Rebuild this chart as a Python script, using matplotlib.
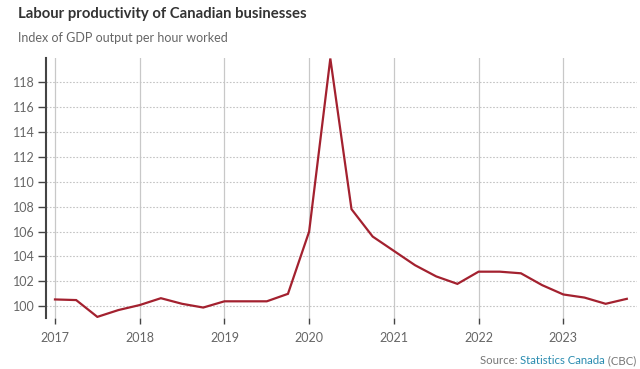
import matplotlib
matplotlib.use("Agg")
import matplotlib.pyplot as plt
import numpy as np

plt.rcParams['font.family'] = ['Lato', 'DejaVu Sans']

quarters = [2017 + q / 4 for q in range(28)]
productivity = [100.55, 100.5, 99.15, 99.7, 100.1, 100.65, 100.2, 99.9,
                100.4, 100.4, 100.4, 101.0, 106.0, 119.9, 107.8, 105.6,
                104.45, 103.3, 102.4, 101.8, 102.78, 102.78, 102.65, 101.7,
                100.95, 100.7, 100.2, 100.6]
year_ticks = [2017, 2018, 2019, 2020, 2021, 2022, 2023]
y_ticks = [100, 102, 104, 106, 108, 110, 112, 114, 116, 118]

fig = plt.figure(figsize=(6.4, 3.69), dpi=100)
ax = fig.add_axes([46/640, 1 - 318/369, (637-46)/640, (318-58)/369])

ax.plot(quarters, productivity, color='#a3212f', lw=1.6, zorder=3, solid_joinstyle='miter')

ax.set_xlim(2016.894, 2023.87)
ax.set_ylim(99.06, 119.94)
ax.set_xticks(year_ticks)
ax.set_xticklabels([str(y) for y in year_ticks])
ax.set_yticks(y_ticks)
ax.set_yticklabels([str(y) for y in y_ticks])

for s in ['top', 'right', 'bottom']:
    ax.spines[s].set_visible(False)
ax.spines['left'].set_color('#444444')
ax.spines['left'].set_linewidth(1.5)

ax.grid(axis='y', color='#c4c4c4', linestyle=(0, (1.5, 1.5)), lw=0.8)
ax.grid(axis='x', color='#c8c8c8', linestyle='-', lw=0.9)
ax.set_axisbelow(True)

ax.tick_params(axis='y', length=6, width=1, color='#444444', labelsize=9, labelcolor='#666666', pad=2)
ax.tick_params(axis='x', length=4, width=1, color='#444444', labelsize=9, labelcolor='#666666', pad=6)

fig.text(18/640, 1 - 14/369, 'Labour productivity of Canadian businesses', fontsize=10.7,
         fontweight='bold', color='#333333', va='center', ha='left')
fig.text(18/640, 1 - 38/369, 'Index of GDP output per hour worked', fontsize=9,
         color='#666666', va='center', ha='left')

# Source line, right-aligned
yline = 1 - 361/369
t3 = fig.text(636/640, yline, ' (CBC)', fontsize=8.2, color='#777777', va='center', ha='right')
fig.canvas.draw()
r = fig.canvas.get_renderer()
bb3 = t3.get_window_extent(r)
t2 = fig.text(bb3.x0/640, yline, 'Statistics Canada', fontsize=8.2, color='#2a8cb0', va='center', ha='right')
bb2 = t2.get_window_extent(r)
fig.text(bb2.x0/640, yline, 'Source: ', fontsize=8.2, color='#777777', va='center', ha='right')

fig.savefig('out.png', dpi=100)
